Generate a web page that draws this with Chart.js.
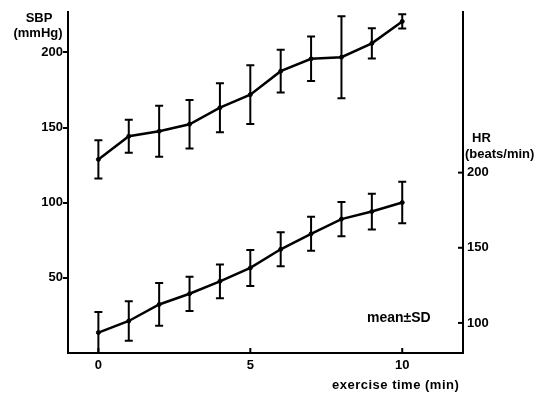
<!DOCTYPE html>
<html lang="en">
<head>
  <meta charset="UTF-8">
  <title>SBP and HR during exercise</title>
  <script src="https://cdn.jsdelivr.net/npm/chart.js"></script>
  <style>
    body {
      margin: 0;
      background: white;
    }
    #wrap {
      width: 556px;
      height: 394px;
    }
  </style>
</head>
<body>
  <div id="wrap"><canvas id="exChart" width="556" height="394"></canvas></div>

  <script>
    // exercise time (min)
    const minutes = [0, 1, 2, 3, 4, 5, 6, 7, 8, 9, 10];
    // systolic blood pressure (mmHg), mean and SD
    const sbpMean = [128.8, 144.2, 147.5, 152.2, 163.2, 171.9, 187.5, 195.7, 196.8, 206.0, 220.6];
    const sbpSD   = [12.7, 11.0, 17.0, 16.2, 16.3, 19.6, 14.2, 14.8, 27.3, 10.0, 4.7];
    // heart rate (beats/min), mean and SD
    const hrMean = [93.6, 101.3, 112.3, 119.4, 127.7, 136.6, 149.0, 159.3, 169.1, 174.1, 180.1];
    const hrSD   = [13.6, 13.2, 14.2, 11.4, 11.2, 12.0, 11.3, 11.3, 11.4, 11.9, 13.8];
    // tick labels
    const xTicks = [0, 5, 10];
    const sbpTicks = [50, 100, 150, 200];
    const hrTicks = [100, 150, 200];

    const FONT = '"Liberation Sans", Arial, sans-serif';
    const sds = [sbpSD, hrSD];

    // error bars + extra labels, drawn through the chart's scales
    const errorBars = {
      id: 'errorBars',
      afterDatasetsDraw(chart) {
        const ctx = chart.ctx;
        ctx.save();
        ctx.strokeStyle = '#000';
        ctx.lineWidth = 2;
        chart.data.datasets.forEach((ds, i) => {
          const meta = chart.getDatasetMeta(i);
          const ys = chart.scales[ds.yAxisID];
          meta.data.forEach((pt, j) => {
            const v = ds.data[j].y;
            const top = ys.getPixelForValue(v + sds[i][j]);
            const bot = ys.getPixelForValue(v - sds[i][j]);
            ctx.beginPath();
            ctx.moveTo(pt.x, top); ctx.lineTo(pt.x, bot);
            ctx.moveTo(pt.x - 4, top); ctx.lineTo(pt.x + 4, top);
            ctx.moveTo(pt.x - 4, bot); ctx.lineTo(pt.x + 4, bot);
            ctx.stroke();
          });
        });
        ctx.restore();
      },
      afterDraw(chart) {
        const ctx = chart.ctx;
        const x = chart.scales.x, yR = chart.scales.yHR;
        ctx.save();
        ctx.strokeStyle = '#000';
        ctx.lineWidth = 2;
        // inward tick marks on x and right axis
        xTicks.forEach(t => {
          const px = x.getPixelForValue(t);
          ctx.beginPath(); ctx.moveTo(px, x.top); ctx.lineTo(px, x.top - 5); ctx.stroke();
        });
        hrTicks.forEach(t => {
          const py = yR.getPixelForValue(t);
          ctx.beginPath(); ctx.moveTo(yR.left, py); ctx.lineTo(yR.left - 5, py); ctx.stroke();
        });
        ctx.fillStyle = '#000';
        ctx.font = 'bold 13px ' + FONT;
        ctx.textBaseline = 'middle';
        ctx.textAlign = 'center';
        ctx.fillText('SBP', 39, 18);
        ctx.fillText('(mmHg)', 38, 33);
        ctx.textAlign = 'left';
        ctx.fillText('HR', 472, 138);
        ctx.fillText('(beats/min)', 465, 154);
        ctx.font = 'bold 14px ' + FONT;
        ctx.fillText('mean\u00b1SD', 367, 318);
        ctx.font = 'bold 13px ' + FONT;
        ctx.letterSpacing = '0.5px';
        ctx.fillText('exercise time (min)', 332, 385);
        ctx.restore();
      }
    };

    const toPoints = arr => arr.map((v, i) => ({ x: minutes[i], y: v }));

    const config = {
      type: 'line',
      data: {
        datasets: [{
          label: 'SBP',
          data: toPoints(sbpMean),
          yAxisID: 'ySBP',
          borderColor: '#000',
          backgroundColor: '#000',
          borderWidth: 2.5,
          pointRadius: 2,
          pointBorderWidth: 1,
          tension: 0
        }, {
          label: 'HR',
          data: toPoints(hrMean),
          yAxisID: 'yHR',
          borderColor: '#000',
          backgroundColor: '#000',
          borderWidth: 2.5,
          pointRadius: 2,
          pointBorderWidth: 1,
          tension: 0
        }]
      },
      options: {
        responsive: false,
        animation: false,
        layout: { padding: { top: 10, right: 0, left: 0, bottom: 0 } },
        plugins: { legend: { display: false }, tooltip: { enabled: false } },
        scales: {
          x: {
            type: 'linear',
            min: -1,
            max: 12,
            afterBuildTicks: s => { s.ticks = xTicks.map(v => ({ value: v })); },
            afterFit: s => { s.height = 41; },
            grid: { display: false, drawTicks: false },
            border: { display: true, color: '#000', width: 2 },
            ticks: { color: '#000', padding: 5, font: { family: FONT, size: 13, weight: 'bold' } }
          },
          ySBP: {
            position: 'left',
            min: 0,
            max: 227,
            afterBuildTicks: s => { s.ticks = sbpTicks.map(v => ({ value: v })); },
            afterFit: s => { s.width = 68; },
            grid: { drawOnChartArea: false, drawTicks: true, tickLength: 5, color: '#000', lineWidth: 2 },
            border: { display: true, color: '#000', width: 2 },
            ticks: { color: '#000', padding: 0, font: { family: FONT, size: 13, weight: 'bold' } }
          },
          yHR: {
            position: 'right',
            min: 80,
            max: 307,
            afterBuildTicks: s => { s.ticks = hrTicks.map(v => ({ value: v })); },
            afterFit: s => { s.width = 93; },
            grid: { display: false, drawTicks: false },
            border: { display: true, color: '#000', width: 2 },
            ticks: { color: '#000', padding: 4, font: { family: FONT, size: 13, weight: 'bold' } }
          }
        }
      },
      plugins: [errorBars]
    };

    const exChart = new Chart(document.getElementById('exChart'), config);
  </script>
</body>
</html>
